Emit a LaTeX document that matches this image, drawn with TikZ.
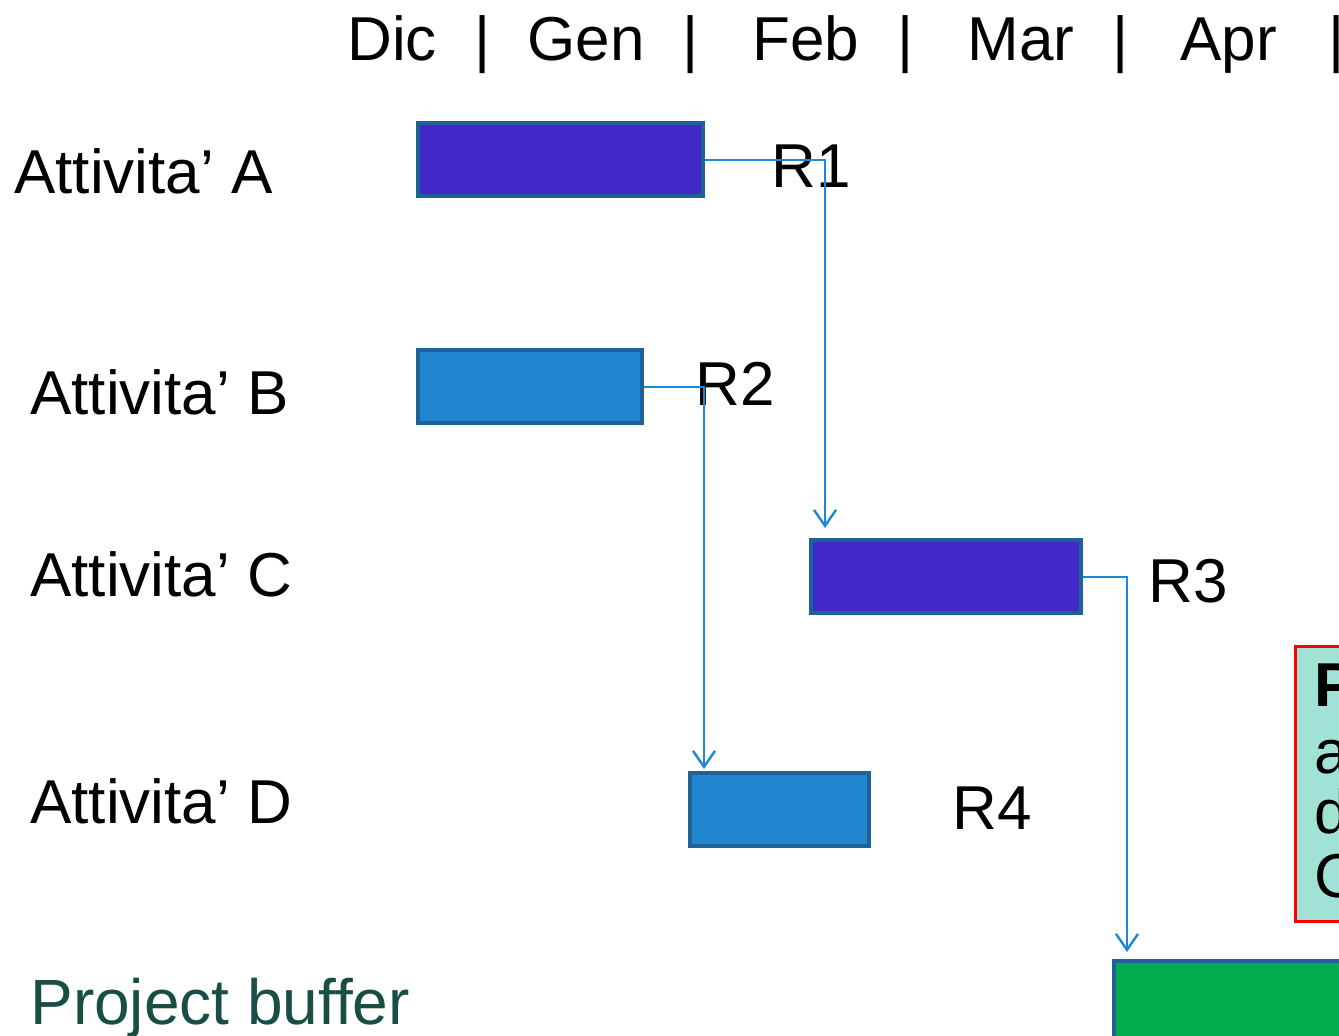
\documentclass[tikz,border=0pt]{standalone}
\usepackage{fontspec}
\setmainfont{Liberation Sans}
\usetikzlibrary{arrows.meta}
\definecolor{barpurple}{HTML}{4129C8}
\definecolor{barblue}{HTML}{1F86CF}
\definecolor{bargreen}{HTML}{00AD4E}
\definecolor{barborder}{HTML}{1F6199}
\definecolor{linkblue}{HTML}{1E88D6}
\definecolor{buftext}{HTML}{184E45}
\definecolor{notefill}{HTML}{A0E3D6}
\begin{document}
\begin{tikzpicture}[x=0.5pt,y=-0.5pt,
  lbl/.style={anchor=base west,inner sep=0pt,font=\fontsize{31}{37}\selectfont},
  barbox/.style={draw=barborder,line width=2pt,inner sep=0pt,anchor=north west,minimum height=36.5pt},
  link/.style={draw=linkblue,line width=1pt,-{Straight Barb[length=8pt,width=11pt,line width=1.2pt]}}]
\useasboundingbox (0,0) rectangle (1339,1035);
\clip (0,0) rectangle (1339,1035);
% header
\node[lbl] (hdic) at (347,60) {Dic};
\node[lbl] (hb1) at (474,60) {|};
\node[lbl] (hgen) at (527,60) {Gen};
\node[lbl] (hb2) at (682,60) {|};
\node[lbl] (hfeb) at (752,60) {Feb};
\node[lbl] (hb3) at (897,60) {|};
\node[lbl] (hmar) at (967,60) {Mar};
\node[lbl] (hb4) at (1112,60) {|};
\node[lbl] (hapr) at (1180,60) {Apr};
\node[lbl] (hb5) at (1328,60) {|};
% row labels
\node[lbl] (la) at (14,193) {Attivita’ A};
\node[lbl] (lb) at (30,414) {Attivita’ B};
\node[lbl] (lc) at (30,596) {Attivita’ C};
\node[lbl] (ld) at (30,823) {Attivita’ D};
\node[lbl,font=\fontsize{32}{38}\selectfont,text=buftext] (lp) at (30,1024) {Project buffer};
% bars
\node[barbox,fill=barpurple,minimum width=142.5pt] (ba) at (416,121) {};
\node[barbox,fill=barblue,minimum width=112pt] (bb) at (416,348) {};
\node[barbox,fill=barpurple,minimum width=135pt] (bc) at (809,538) {};
\node[barbox,fill=barblue,minimum width=89.5pt] (bd) at (688,771) {};
\node[barbox,fill=bargreen,minimum width=150pt,minimum height=45pt] (bp) at (1112,959) {};
% note box
\node[draw=red,line width=1.5pt,fill=notefill,anchor=north west,minimum width=60pt,minimum height=137.5pt,inner sep=0pt] (note) at (1294,645) {};
\node[lbl,font=\fontsize{31}{37}\selectfont\bfseries] (n1) at (1314,706) {P};
\node[lbl] (n2) at (1314,773) {a};
\node[lbl] (n3) at (1314,833) {d};
\node[lbl] (n4) at (1314,897) {C};
% resource labels
\node[lbl] (r1) at (771,187) {R1};
\node[lbl] (r2) at (695,405) {R2};
\node[lbl] (r3) at (1148,602) {R3};
\node[lbl] (r4) at (952,829) {R4};
% links
\coordinate (ka) at (825,158);
\coordinate (kb) at (704,386);
\coordinate (kc) at (1127,577);
\draw[link] (ba.east) -| ([yshift=5pt]bc.north -| ka);
\draw[link] (bb.east) -| ([yshift=1pt]bd.north -| kb);
\draw[link] (bc.east) -| ([yshift=3.5pt]bp.north -| kc);
\end{tikzpicture}
\end{document}
